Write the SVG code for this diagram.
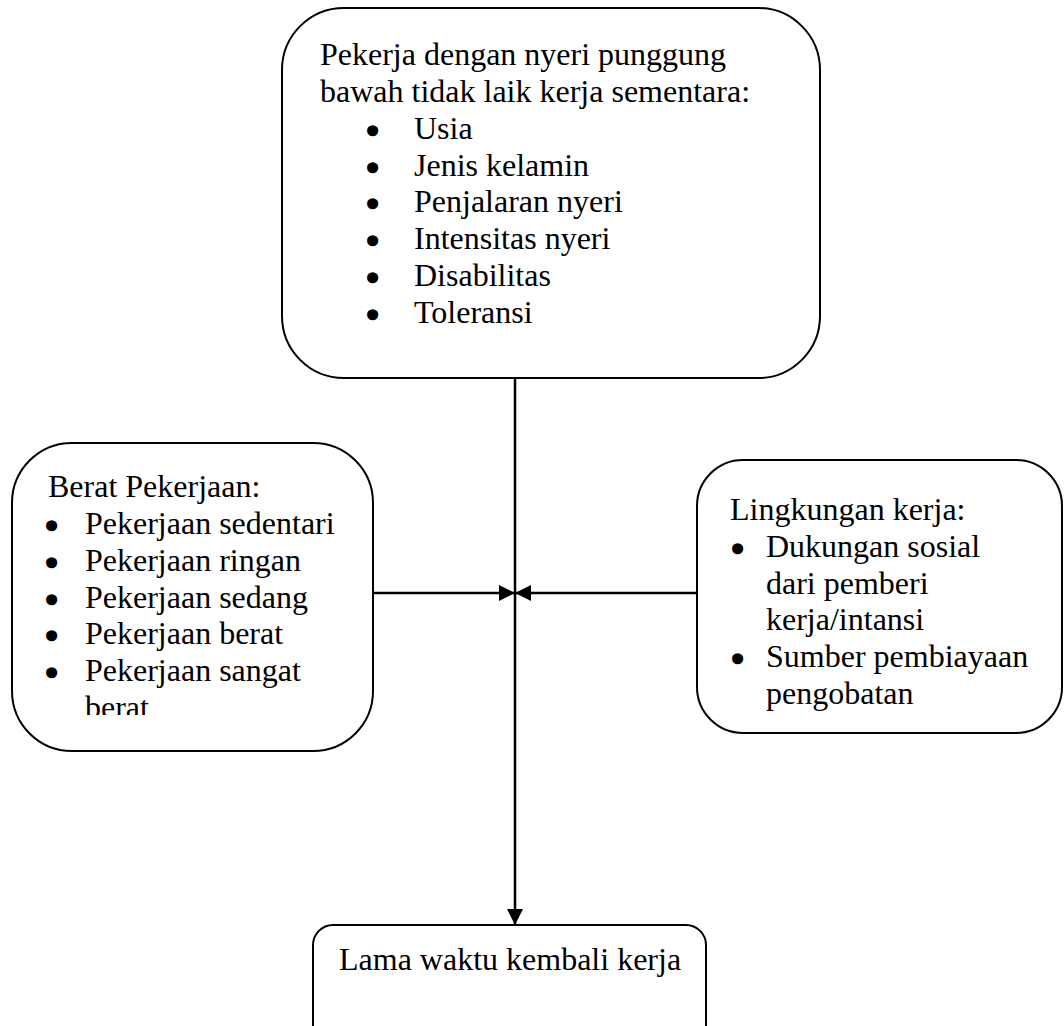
<svg xmlns="http://www.w3.org/2000/svg" width="1064" height="1026" viewBox="0 0 1064 1026">
<style>
.box{fill:#fff;stroke:#000;stroke-width:2}
.t{font-family:"Liberation Serif","Times New Roman",serif;font-size:32px;fill:#000}
.b{font-family:"Liberation Serif","Times New Roman",serif;font-size:32px;fill:#000;stroke:#000;stroke-width:3.5;stroke-linejoin:round}
.c{stroke:#000;stroke-width:2.5;fill:none}
</style>
<defs>
<marker id="ah" viewBox="0 0 16 16" refX="16" refY="8" markerWidth="16" markerHeight="16" markerUnits="userSpaceOnUse" orient="auto">
<path d="M0,0 L16,8 L0,16 Z" fill="#000"/>
</marker>
<clipPath id="clipL"><rect x="12" y="443" width="361" height="272"/></clipPath>
</defs>
<rect width="1064" height="1026" fill="#fff"/>
<g id="connectors">
<line class="c" x1="515" y1="378" x2="515" y2="925" marker-end="url(#ah)"/>
<line class="c" x1="373" y1="593" x2="515" y2="593" marker-end="url(#ah)"/>
<line class="c" x1="697" y1="593" x2="515" y2="593" marker-end="url(#ah)"/>
</g>
<g id="node-top">
<rect class="box" x="282" y="8" width="538" height="370" rx="62" ry="62"/>
<text class="t" x="320" y="65">Pekerja dengan nyeri punggung</text>
<text class="t" x="320" y="102">bawah tidak laik kerja sementara:</text>
<g class="b">
<text x="367" y="142">•</text>
<text x="367" y="179">•</text>
<text x="367" y="215">•</text>
<text x="367" y="252">•</text>
<text x="367" y="289">•</text>
<text x="367" y="326">•</text>
</g>
<g class="t">
<text x="414" y="139">Usia</text>
<text x="414" y="176">Jenis kelamin</text>
<text x="414" y="212">Penjalaran nyeri</text>
<text x="414" y="249">Intensitas nyeri</text>
<text x="414" y="286">Disabilitas</text>
<text x="414" y="323">Toleransi</text>
</g>
</g>
<g id="node-left">
<rect class="box" x="12" y="443" width="361" height="308" rx="60" ry="60"/>
<g clip-path="url(#clipL)">
<g class="b">
<text x="46" y="537">•</text>
<text x="46" y="574">•</text>
<text x="46" y="611">•</text>
<text x="46" y="647">•</text>
<text x="46" y="684">•</text>
</g>
<g class="t">
<text x="48" y="497">Berat Pekerjaan:</text>
<text x="85" y="534">Pekerjaan sedentari</text>
<text x="85" y="571">Pekerjaan ringan</text>
<text x="85" y="608">Pekerjaan sedang</text>
<text x="85" y="644">Pekerjaan berat</text>
<text x="85" y="681">Pekerjaan sangat</text>
<text x="85" y="718">berat</text>
</g>
</g>
</g>
<g id="node-right">
<rect class="box" x="697" y="460" width="365" height="273" rx="46" ry="46"/>
<g class="b">
<text x="732" y="560">•</text>
<text x="732" y="670">•</text>
</g>
<g class="t">
<text x="730" y="520">Lingkungan kerja:</text>
<text x="766" y="557">Dukungan sosial</text>
<text x="766" y="594">dari pemberi</text>
<text x="766" y="630">kerja/intansi</text>
<text x="766" y="667">Sumber pembiayaan</text>
<text x="766" y="704">pengobatan</text>
</g>
</g>
<g id="node-bottom">
<rect class="box" x="313" y="925" width="393" height="120" rx="20" ry="20"/>
<text class="t" x="339" y="970">Lama waktu kembali kerja</text>
</g>
</svg>
